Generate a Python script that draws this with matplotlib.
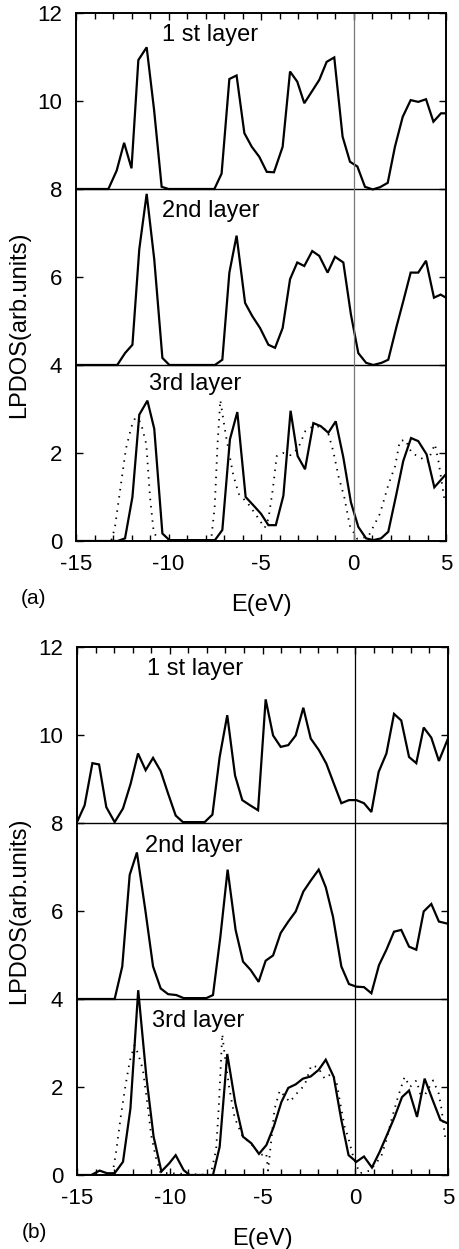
import numpy as np
import matplotlib.pyplot as plt
from matplotlib.ticker import MultipleLocator

plt.rcParams['font.family'] = ['Liberation Sans', 'DejaVu Sans']

# -----------------------------------------------------------------------------
# data (layers are stacked with offsets 8, 4, 0)

x_ticks = [-15, -10, -5, 0, 5]
x_ticklabels = ['-15', '-10', '-5', '0', '5']
y_ticks = [0, 2, 4, 6, 8, 10, 12]

# panel (a)
a1_e = [-15.0, -13.25, -12.8, -12.4, -12.0, -11.63, -11.18, -10.78, -10.37, -10.0,
        -7.52, -7.13, -6.71, -6.32, -5.9, -5.5, -5.09, -4.69, -4.3, -3.83, -3.43,
        -3.04, -2.66, -2.26, -1.85, -1.45, -1.04, -0.59, -0.19, 0.21, 0.62, 1.04,
        1.43, 1.85, 2.24, 2.66, 3.09, 3.5, 3.92, 4.32, 4.73, 5.0]
a1_y = [8.0, 8.0, 8.42, 9.05, 8.47, 10.93, 11.22, 9.8, 8.05, 8.0,
        8.0, 8.35, 10.5, 10.58, 9.27, 8.96, 8.73, 8.39, 8.38, 8.96, 10.67,
        10.44, 9.95, 10.21, 10.48, 10.89, 10.99, 9.19, 8.62, 8.51, 8.05, 7.99,
        8.04, 8.14, 8.96, 9.64, 10.02, 9.98, 10.04, 9.53, 9.72, 9.72]

a2_e = [-15.0, -13.16, -12.77, -12.35, -11.95, -11.58, -11.18, -10.77, -10.33, -9.95,
        -7.49, -7.09, -6.71, -6.32, -5.86, -5.47, -5.05, -4.6, -4.24, -3.83, -3.43,
        -3.04, -2.66, -2.23, -1.85, -1.4, -1.0, -0.55, -0.14, 0.26, 0.68, 1.07,
        1.52, 1.88, 2.33, 2.69, 3.09, 3.5, 3.92, 4.35, 4.71, 5.0]
a2_y = [4.0, 4.0, 4.0, 4.27, 4.46, 6.63, 7.89, 6.4, 4.16, 4.0,
        4.0, 4.12, 6.1, 6.94, 5.41, 5.11, 4.84, 4.46, 4.39, 4.84, 5.95,
        6.33, 6.25, 6.59, 6.48, 6.1, 6.46, 6.33, 5.15, 4.27, 4.05, 4.0,
        4.05, 4.12, 4.88, 5.45, 6.1, 6.1, 6.37, 5.53, 5.6, 5.53]

a3_e = [-15.0, -12.75, -12.35, -11.95, -11.58, -11.14, -10.77, -10.33, -9.95,
        -7.49, -7.09, -6.68, -6.28, -5.83, -5.41, -5.0, -4.6, -4.2, -3.79, -3.4,
        -3.02, -2.62, -2.17, -1.77, -1.36, -0.96, -0.55, -0.14, 0.26, 0.68, 1.07,
        1.49, 1.88, 2.3, 2.69, 3.11, 3.5, 3.95, 4.37, 4.77, 5.0]
a3_y = [0.0, 0.0, 0.06, 1.0, 2.87, 3.19, 2.55, 0.17, 0.02,
        0.02, 0.25, 2.31, 2.93, 1.0, 0.81, 0.62, 0.36, 0.36, 1.03, 2.96,
        1.93, 1.63, 2.68, 2.61, 2.46, 2.72, 1.9, 0.88, 0.32, 0.06, 0.02,
        0.06, 0.21, 1.03, 1.82, 2.34, 2.27, 1.97, 1.22, 1.41, 1.52]

a3d_e = [-15.0, -13.1, -12.9, -12.6, -12.3, -12.0, -11.8, -11.5, -11.2, -11.0,
         -10.8, -10.5, -7.7, -7.5, -7.35, -7.2, -6.9, -6.5, -6.2, -5.7, -5.2,
         -4.8, -4.6, -4.37, -4.15, -3.8, -3.4, -3.0, -2.6, -2.2, -1.8, -1.4,
         -1.1, -0.8, -0.5, -0.2, 0.2, 0.8, 1.43, 1.9, 2.25, 2.5, 2.8, 3.15,
         3.6, 4.0, 4.4, 4.6, 4.8, 4.95]
a3d_y = [0.0, 0.0, 0.3, 1.2, 2.1, 2.6, 2.8, 2.7, 2.2, 1.0,
         0.2, 0.0, 0.0, 0.8, 2.2, 3.2, 2.4, 1.5, 1.07, 0.85, 0.55,
         0.3, 0.5, 1.15, 1.93, 2.0, 1.95, 2.1, 2.5, 2.6, 2.6, 2.5,
         2.05, 1.45, 1.0, 0.35, 0.05, 0.1, 0.62, 1.3, 1.7, 2.27, 2.3, 2.0,
         1.9, 1.8, 2.2, 1.8, 1.25, 0.85]

# panel (b)
b1_e = [-15.0, -14.59, -14.17, -13.81, -13.42, -12.97, -12.52, -12.11, -11.71, -11.3,
        -10.9, -10.49, -10.09, -9.68, -9.29, -8.12, -7.7, -7.31, -6.9, -6.48,
        -6.09, -5.66, -5.24, -4.83, -4.43, -4.02, -3.61, -3.21, -2.8, -2.4,
        -1.95, -1.56, -1.15, -0.75, -0.34, 0.06, 0.47, 0.87, 1.26, 1.68, 2.09,
        2.48, 2.9, 3.29, 3.69, 4.1, 4.51, 5.0]
b1_y = [8.02, 8.4, 9.36, 9.33, 8.36, 8.02, 8.33, 8.89, 9.58, 9.2,
        9.48, 9.18, 8.67, 8.17, 8.02, 8.02, 8.19, 9.5, 10.45, 9.08,
        8.52, 8.4, 8.29, 10.81, 9.99, 9.73, 9.77, 9.99, 10.62, 9.92,
        9.65, 9.35, 8.89, 8.45, 8.52, 8.52, 8.45, 8.25, 9.16, 9.58, 10.48,
        10.33, 9.5, 9.36, 10.17, 9.94, 9.41, 9.92]

b2_e = [-15.0, -12.97, -12.56, -12.16, -11.77, -11.32, -10.9, -10.49, -10.09, -9.65,
        -9.25, -8.03, -7.67, -7.27, -6.88, -6.45, -6.05, -5.64, -5.21, -4.83,
        -4.43, -4.02, -3.61, -3.21, -2.8, -2.4, -1.97, -1.59, -1.2, -0.75,
        -0.34, 0.06, 0.47, 0.87, 1.28, 1.68, 2.09, 2.48, 2.9, 3.29, 3.69,
        4.1, 4.51, 5.0]
b2_y = [4.0, 4.0, 4.74, 6.82, 7.33, 6.03, 4.74, 4.24, 4.11, 4.09,
        4.02, 4.02, 4.09, 5.42, 6.94, 5.57, 4.85, 4.66, 4.39, 4.87,
        4.99, 5.5, 5.76, 5.99, 6.44, 6.69, 6.94, 6.54, 5.87, 4.74,
        4.34, 4.28, 4.27, 4.13, 4.77, 5.12, 5.53, 5.57, 5.19, 5.12, 5.99,
        6.16, 5.76, 5.71]

b3_e = [-15.0, -14.23, -13.78, -13.38, -12.97, -12.52, -12.12, -11.7, -11.26, -10.87,
        -10.45, -10.04, -9.68, -9.25, -8.93, -7.67, -7.31, -6.9, -6.46, -6.05,
        -5.6, -5.19, -4.79, -4.4, -3.98, -3.61, -3.21, -2.82, -2.4, -1.97,
        -1.59, -1.16, -0.75, -0.36, 0.06, 0.47, 0.9, 1.32, 1.71, 2.12, 2.52,
        2.9, 3.33, 3.74, 4.14, 4.59, 5.0]
b3_y = [0.0, 0.0, 0.1, 0.04, 0.04, 0.3, 1.51, 4.2, 2.23, 0.87,
        0.08, 0.26, 0.45, 0.11, 0.0, 0.0, 0.64, 2.75, 1.62, 0.87,
        0.72, 0.48, 0.68, 1.09, 1.66, 1.98, 2.06, 2.19, 2.24, 2.39,
        2.62, 2.23, 1.25, 0.45, 0.3, 0.42, 0.17, 0.53, 0.91, 1.32, 1.77,
        1.92, 1.32, 2.19, 1.74, 1.25, 1.17]

b3d_e = [-15.0, -13.1, -12.9, -12.65, -12.4, -12.15, -11.9, -11.7, -11.45, -11.2,
         -11.0, -10.75, -10.5, -7.8, -7.5, -7.35, -7.17, -7.0, -6.8, -6.5,
         -6.1, -5.6, -5.1, -4.8, -4.7, -4.5, -4.35, -4.07, -3.53, -3.08,
         -2.73, -2.37, -2.01, -1.65, -1.3, -1.02, -0.84, -0.57, -0.39, -0.1,
         0.24, 0.8, 1.4, 1.68, 1.95, 2.3, 2.66, 2.95, 3.3, 3.5, 3.74, 4.2,
         4.5, 4.65, 4.87]
b3d_y = [0.0, 0.0, 0.5, 1.3, 2.0, 2.6, 2.95, 2.75, 2.4, 1.6,
         0.9, 0.4, 0.05, 0.0, 0.57, 1.6, 3.2, 2.6, 2.0, 1.3,
         0.9, 0.7, 0.45, 0.5, 0.1, 0.9, 1.5, 1.92, 1.66, 1.89,
         2.04, 2.49, 2.45, 2.19, 2.3, 2.15, 1.7, 1.09, 0.87, 0.4,
         0.04, 0.1, 0.42, 0.8, 1.25, 1.77, 2.23, 2.0, 2.15, 1.85, 1.81, 2.15,
         1.85, 1.5, 0.79]

panels = [
    dict(solid=[(a1_e, a1_y), (a2_e, a2_y), (a3_e, a3_y)], dotted=(a3d_e, a3d_y),
         tag='(a)', zero_color='#777777',
         layer_pos=[(-10.35, 11.37), (-10.35, 7.37), (-11.05, 3.43)],
         rect=[76 / 459, 708 / 1249, 370 / 459, 528 / 1249], ylab_y=0.41),
    dict(solid=[(b1_e, b1_y), (b2_e, b2_y), (b3_e, b3_y)], dotted=(b3d_e, b3d_y),
         tag='(b)', zero_color='black',
         layer_pos=[(-11.23, 11.36), (-11.33, 7.33), (-10.96, 3.37)],
         rect=[77 / 459, 74 / 1249, 371 / 459, 528 / 1249], ylab_y=0.50),
]
layer_names = ['1 st layer', '2nd layer', '3rd layer']

# -----------------------------------------------------------------------------

fig = plt.figure(figsize=(4.59, 12.49), dpi=100)

for p in panels:
    ax = fig.add_axes(p['rect'])
    for e, y in p['solid']:
        ax.plot(e, y, color='black', lw=1.6, solid_joinstyle='miter')
    ax.plot(p['dotted'][0], p['dotted'][1], color='black', lw=1.3,
            linestyle=(0, (0.8, 3.2)))

    # separators between layers and the Fermi level
    for level in (4, 8):
        ax.axhline(level, color='black', lw=1.0)
    ax.axvline(0, color=p['zero_color'], lw=0.9)

    for (x, y), name in zip(p['layer_pos'], layer_names):
        ax.text(x, y, name, fontsize=17, ha='left', va='baseline')

    ax.set_xlim(-15, 5)
    ax.set_ylim(0, 12)
    ax.set_xticks(x_ticks, x_ticklabels)
    ax.set_yticks(y_ticks)
    ax.xaxis.set_minor_locator(MultipleLocator(1))
    ax.tick_params(which='both', direction='in', top=True, right=True,
                   width=1.0, labelsize=16)
    ax.tick_params(which='major', length=5)
    ax.tick_params(which='minor', length=4)
    ax.tick_params(axis='y', pad=10)
    ax.tick_params(axis='x', pad=9)
    for s in ax.spines.values():
        s.set_linewidth(1.4)

    ax.set_ylabel('LPDOS(arb.units)', fontsize=17)
    ax.yaxis.set_label_coords(-0.125, p['ylab_y'])
    ax.set_xlabel('E(eV)', fontsize=17, labelpad=14)
    ax.text(-0.15, -0.09, p['tag'], transform=ax.transAxes, fontsize=15,
            ha='left', va='top')

fig.savefig('out.png', dpi=100)
